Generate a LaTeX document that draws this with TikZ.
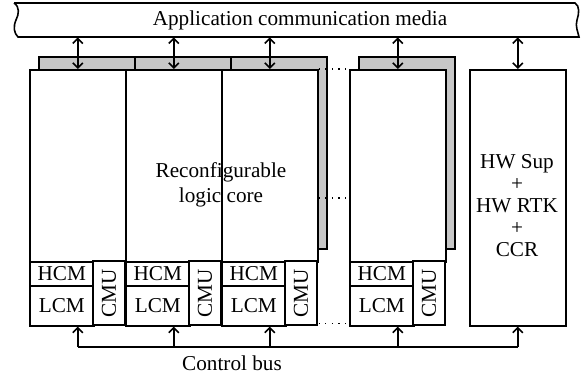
\documentclass[tikz,border=0pt]{standalone}
\usepackage{fontspec}
\setmainfont{Liberation Serif}
\usetikzlibrary{arrows.meta}
\tikzset{
  box/.style={draw, fill=white, inner sep=0pt, line width=0.8pt},
  backcol/.style={draw, fill=black!22, line width=0.8pt},
  link/.style={line width=0.8pt, {Straight Barb[length=2.5pt,width=5pt]}-{Straight Barb[length=2.5pt,width=5pt]}},
  up/.style={line width=0.8pt, -{Straight Barb[length=2.5pt,width=5pt]}},
  dots/.style={line width=0.8pt, dash pattern=on 0.6pt off 2.7pt},
}
\begin{document}
\begin{tikzpicture}[x=0.5pt,y=-0.5pt, font=\fontsize{10.6}{12.5}\selectfont]
\useasboundingbox (0,0) rectangle (582,377);

% media
\node[minimum width=281pt, minimum height=17pt, inner sep=0pt] (media) at (300,20) {Application communication media};
\draw[line width=0.8pt] (14,3) -- (575,3)
  .. controls (580,6) and (579,14) .. (577,20)
  .. controls (575,26) and (578,32) .. (579,37) -- (18,37)
  .. controls (14,33) and (13,27) .. (16,20)
  .. controls (19,14) and (20,7) .. (14,3);

% back columns
\foreach \l in {29,125,221,349}
  \draw[backcol] (\l+10,57) rectangle (\l+106,249);

% columns
\foreach \l/\n in {29/1,125/2,221/3,349/4}{
  \node[box, minimum width=48pt, minimum height=96pt, anchor=north west] (core\n) at (\l,69) {};
  \node[box, minimum width=32pt, minimum height=12pt, anchor=north west] (hcm\n) at (\l,261) {HCM};
  \node[box, minimum width=32pt, minimum height=20pt, anchor=north west] (lcm\n) at (\l,285) {LCM};
  \node[box, minimum width=32pt, minimum height=16pt, rotate=90] (cmu\n) at (\l+80,293) {CMU};
}
\node[box, minimum width=48pt, minimum height=128pt, anchor=north west] (hw) at (469,69) {};
\node[align=center, inner sep=0pt] (hwtext) at (517,206) {HW Sup\\[-1.5pt]+\\[-1.5pt]HW RTK\\[-1.5pt]+\\[-1.5pt]CCR};
\node[align=center] (rlc) at (221,185) {Reconfigurable\\logic core};

% dots
\draw[dots] (core3.north east) -- (core4.north west);
\draw[dots] (core3.east |- hw.center) -- (core4.west |- hw.center);
\draw[dots] ([yshift=1.5pt]core3.east |- lcm3.south) -- ([yshift=1.5pt]lcm4.south west);

% links to media
\foreach \n in {core1,core2,core3,core4,hw}
  \draw[link] (\n.north |- media.south) -- (\n.north);

% control bus
\coordinate (bus) at (77,347);
\draw[line width=0.8pt] (core1.south |- bus) -- (hw.south |- bus);
\foreach \n in {1,2,3,4}
  \draw[up] (core\n.south |- bus) -- (core\n.south |- lcm\n.south);
\draw[up] (hw.south |- bus) -- (hw.south);
\node (cbus) at (232,363) {Control bus};
\end{tikzpicture}
\end{document}
